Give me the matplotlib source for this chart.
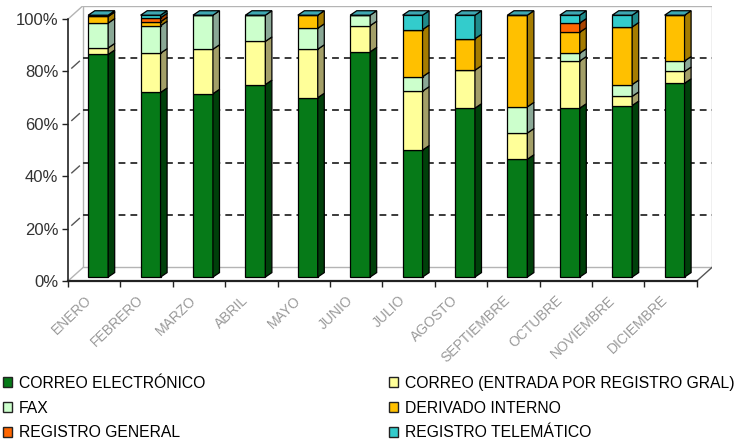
import matplotlib
matplotlib.use("Agg")
import matplotlib.pyplot as plt
from matplotlib.patches import Rectangle, Polygon
from matplotlib.transforms import ScaledTranslation
import numpy as np

plt.rcParams['font.family'] = ['Liberation Sans', 'DejaVu Sans']

# Data (percent of entries per month)
months = ['ENERO', 'FEBRERO', 'MARZO', 'ABRIL', 'MAYO', 'JUNIO', 'JULIO',
          'AGOSTO', 'SEPTIEMBRE', 'OCTUBRE', 'NOVIEMBRE', 'DICIEMBRE']
correo_electronico = [85, 70.5, 70, 73.5, 68.5, 86, 48.5, 64.5, 45, 64.5, 65.5, 74]
correo_registro = [2.5, 15, 17, 16.5, 18.5, 10, 22.5, 14.5, 10, 18, 3.5, 4.5]
fax = [9.5, 10.5, 13, 10, 8, 4, 5.5, 0, 10, 3, 4.5, 4]
derivado_interno = [2.5, 1.5, 0, 0, 5, 0, 18, 12, 35, 8, 22, 17.5]
registro_general = [0, 1.5, 0, 0, 0, 0, 0, 0, 0, 3.5, 0, 0]
registro_telematico = [0.5, 1, 0, 0, 0, 0, 5.5, 9, 0, 3, 4.5, 0]

series_names = ['CORREO ELECTRÓNICO', 'CORREO (ENTRADA POR REGISTRO GRAL)', 'FAX',
                'DERIVADO INTERNO', 'REGISTRO GENERAL', 'REGISTRO TELEMÁTICO']
series = [correo_electronico, correo_registro, fax, derivado_interno,
          registro_general, registro_telematico]
colors = ['#067a18', '#ffff99', '#ccffcc', '#ffc000', '#ff6600', '#33cccc']
side_colors = ['#00400a', '#a39f68', '#8aa896', '#a57c00', '#a84300', '#1f8a8a']
top_color = '#3ea8b2'

# pseudo 3D geometry (data units)
wall_dx, wall_dy = 0.29, 5.2
bar_dx, bar_dy = 0.076, 1.5
depth_dx, depth_dy = 0.125, 1.7
bar_w = 0.38

fig = plt.figure(figsize=(7.44, 4.43), dpi=100)
ax = fig.add_axes([68 / 744, (443 - 281) / 443, 644 / 744, 275.5 / 443])
ax.set_xlim(-0.5, 11.5 + wall_dx)
ax.set_ylim(0, 100 + wall_dy)
ax.patch.set_visible(False)

x = np.arange(len(months))

# back wall, floor and side wall edges
wall = '#b4b4b4'
ax.add_patch(Rectangle((-0.5 + wall_dx, wall_dy), 12, 100, facecolor='white',
                       edgecolor=wall, lw=1, zorder=1))
ax.plot([-0.5, -0.5 + wall_dx], [100, 100 + wall_dy], color=wall, lw=1, zorder=1)
ax.plot([-0.5, -0.5 + wall_dx], [0, wall_dy], color=wall, lw=1, zorder=1)
ax.plot([11.5, 11.5 + wall_dx], [0, wall_dy], color='#555555', lw=1, zorder=1)
for v in [20, 40, 60, 80]:
    ax.plot([-0.5 + wall_dx, 11.5 + wall_dx], [v + wall_dy] * 2, color='#3a3a3a',
            lw=1.4, dashes=(3.5, 2.6), zorder=2)
    ax.plot([-0.5 + 0.25 * wall_dx, -0.5 + 0.75 * wall_dx],
            [v + 0.25 * wall_dy, v + 0.75 * wall_dy], color='#555555', lw=1, zorder=2)

# stacked bars with side and top faces
bottom = np.zeros(len(months))
for vals, c, sc in zip(series, colors, side_colors):
    vals = np.array(vals, dtype=float)
    ax.bar(x + bar_dx, vals, bar_w, bottom=bottom + bar_dy, color=c,
           edgecolor='black', lw=0.9, zorder=3)
    for i in range(len(months)):
        if vals[i] <= 0:
            continue
        xr = x[i] + bar_dx + bar_w / 2
        y0 = bottom[i] + bar_dy
        y1 = y0 + vals[i]
        ax.add_patch(Polygon([(xr, y0), (xr + depth_dx, y0 + depth_dy),
                              (xr + depth_dx, y1 + depth_dy), (xr, y1)],
                             closed=True, facecolor=sc, edgecolor='black',
                             lw=0.9, zorder=3))
    bottom += vals

for i in range(len(months)):
    xl = x[i] + bar_dx - bar_w / 2
    xr = x[i] + bar_dx + bar_w / 2
    yt = bottom[i] + bar_dy
    ax.add_patch(Polygon([(xl, yt), (xr, yt), (xr + depth_dx, yt + depth_dy),
                          (xl + depth_dx, yt + depth_dy)], closed=True,
                         facecolor=top_color, edgecolor='black', lw=0.9, zorder=3))

# front axes
for s in ['top', 'right']:
    ax.spines[s].set_visible(False)
ax.spines['left'].set_bounds(0, 100)
ax.spines['bottom'].set_bounds(-0.5, 11.5)
ax.spines['left'].set_color('#222222')
ax.spines['bottom'].set_color('#222222')
ax.spines['left'].set_linewidth(1.2)
ax.spines['bottom'].set_linewidth(1.6)
ax.set_yticks([0, 20, 40, 60, 80, 100])
ax.set_yticklabels(['0%', '20%', '40%', '60%', '80%', '100%'], fontsize=12, color='#333333')
ax.tick_params(axis='y', length=4, width=1, color='#222222', pad=3)
ax.set_xticks(np.arange(-0.5, 12, 1))
ax.set_xticklabels([])
ax.tick_params(axis='x', length=4, width=1, color='#222222')

offset = ScaledTranslation(-10 / 100, -12 / 100, fig.dpi_scale_trans)
for i, m in enumerate(months):
    ax.text(x[i], 0, m, rotation=44, rotation_mode='anchor', ha='right', va='top',
            fontsize=10, color='#9a9a9a', transform=ax.transData + offset)

# legend in two columns
def handle(c):
    return Rectangle((0, 0), 1, 1, facecolor=c, edgecolor='#222222', lw=1)

order_left = [0, 2, 4]
order_right = [1, 3, 5]
for order, xpos in [(order_left, 3 / 744), (order_right, 389 / 744)]:
    fig.legend([handle(colors[k]) for k in order], [series_names[k] for k in order],
               loc='upper left', bbox_to_anchor=(xpos, 1 - 376 / 443), frameon=False,
               fontsize=11.3, handlelength=0.6, handleheight=0.6, handletextpad=0.4,
               labelspacing=0.62, borderpad=0, borderaxespad=0)

fig.savefig('out.png', dpi=100)
